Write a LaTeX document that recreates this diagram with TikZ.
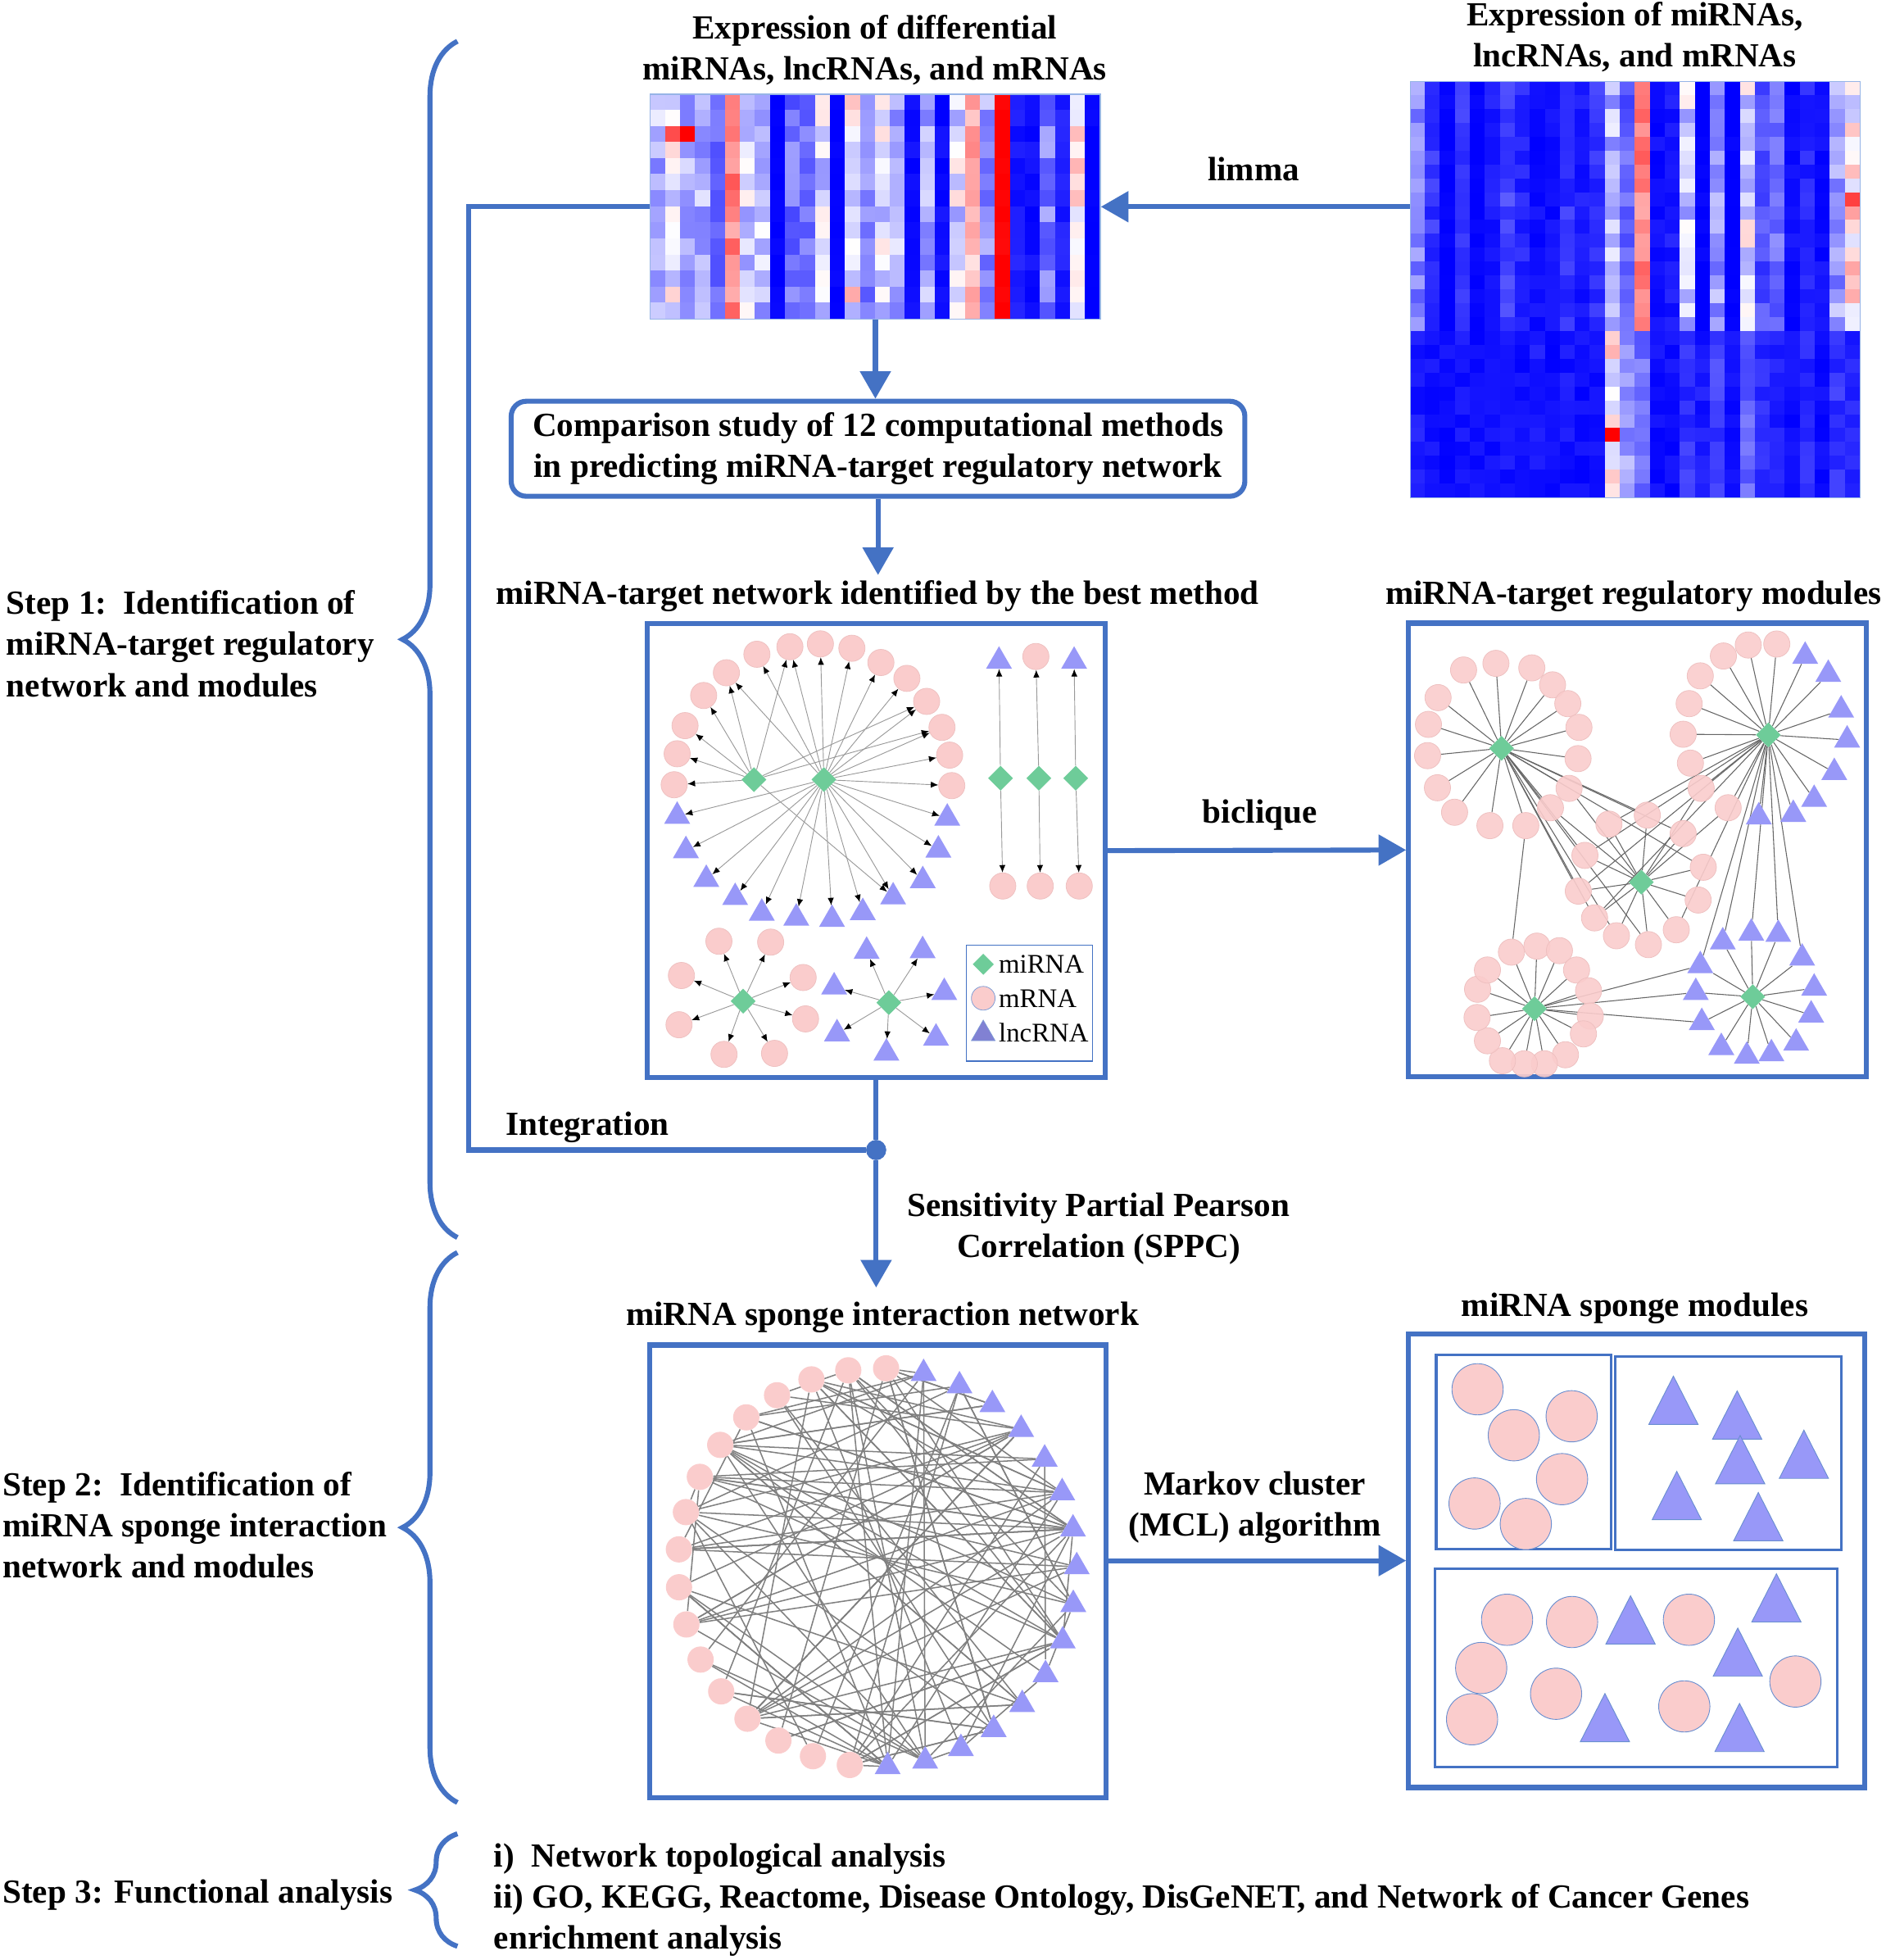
\documentclass[tikz,border=0pt]{standalone}
\usepackage{fontspec}
\setmainfont{Liberation Serif}
\usetikzlibrary{arrows.meta,shapes.geometric,decorations.pathreplacing,backgrounds}

\definecolor{flowblue}{RGB}{68,114,196}
\definecolor{mrnafill}{RGB}{250,204,204}
\definecolor{mrnaline}{RGB}{238,192,192}
\definecolor{lncfill}{RGB}{152,152,248}
\definecolor{mirnafill}{RGB}{110,204,153}
\definecolor{hmline}{RGB}{150,180,230}

\tikzset{
  heading/.style={font=\bfseries\fontsize{27}{33}\selectfont, align=center, inner sep=0pt},
  steptext/.style={font=\bfseries\fontsize{27}{33}\selectfont, align=left, inner sep=0pt, anchor=west},
  legendtext/.style={font=\fontsize{21.5}{24}\selectfont, inner sep=0pt, anchor=west},
  flow/.style={draw=flowblue, line width=4pt, -{Triangle[width=24pt,length=22pt]}},
  flowline/.style={draw=flowblue, line width=4pt},
  netbox/.style={draw=flowblue, line width=4pt, minimum width=366pt, minimum height=363pt, inner sep=0pt},
  cmpbox/.style={draw=flowblue, line width=4pt, rounded corners=12pt, minimum width=587pt, minimum height=76pt, font=\bfseries\fontsize{27}{33}\selectfont, align=center},
  hmframe/.style={draw=hmline, line width=0.8pt, inner sep=0pt, anchor=north west},
  joindot/.style={circle, fill=flowblue, minimum size=16pt, inner sep=0pt},
  mrna/.style={circle, fill=mrnafill, draw=mrnaline, line width=0.5pt, minimum size=21pt, inner sep=0pt},
  lnc/.style={regular polygon, regular polygon sides=3, fill=lncfill, minimum size=24pt, inner sep=0pt},
  mirna/.style={diamond, fill=mirnafill, minimum size=20pt, inner sep=0pt},
  tgtarrow/.style={draw=gray!80, line width=0.6pt, -{Latex[length=6pt,width=5pt,color=black]}},
  modedge/.style={draw=black!60, line width=0.7pt},
  sponge/.style={draw=black!50, line width=1pt},
  modframe/.style={draw=flowblue, line width=2pt},
  modcirc/.style={fill=mrnafill, draw=flowblue!80, line width=0.6pt},
  modlnc/.style={fill=lncfill, draw=flowblue!80, line width=0.6pt},
}

\newcommand{\heatcell}[5]{%
  \pgfmathsetmacro\hv{max(-1,min(1,#5))}%
  \pgfmathsetmacro\hp{abs(\hv)*100}%
  \ifdim\hv pt<0pt
    \fill[blue!\hp!white] (#1,#2) rectangle ++(#3,#4);
  \else
    \fill[red!\hp!white] (#1,#2) rectangle ++(#3,#4);
  \fi}
\newcommand{\modtri}[2]{\filldraw[modlnc] (#1-19.7,#2+19.3) -- (#1,#2-19.3) -- (#1+19.7,#2+19.3) -- cycle;}

\begin{document}
\begin{tikzpicture}[x=1pt,y=-1pt]
\useasboundingbox (0,0) rectangle (1509,1568);
\begin{scope}[on background layer]
  \fill[white] (0,0) rectangle (1509,1568);
\end{scope}

% heatmaps
\pgfmathsetseed{11}
\foreach \m [count=\c from 0] in {-0.3,-0.1,-0.3,-0.3,-0.6,0.5,-0.15,-0.25,-1,-0.55,-0.55,-0.1,-1,0.0,-0.5,-0.15,-0.3,-0.95,-0.35,-0.95,-0.1,0.35,-0.4,1,-0.9,-0.95,-0.5,-0.9,0.0,-1}{
  \pgfmathsetmacro\jit{0.6*(1-abs(\m))+0.08}
  \foreach \r in {0,...,13}{
    \pgfmathsetmacro\hval{\m+\jit*(rnd-0.5)}
    \heatcell{520+12*\c}{75+12.857*\r}{12.2}{13.06}{\hval}
  }
}
\heatcell{532}{100.71}{12}{12.86}{0.7}
\heatcell{544}{100.71}{12}{12.86}{1}
\node[hmframe, minimum width=360pt, minimum height=180pt] (hm1) at (520,75) {};

\foreach \mt/\mb [count=\c from 0] in {-0.45/-0.9,-0.8/-0.92,-1/-0.95,-0.8/-0.92,-1/-0.95,-0.9/-0.95,-0.75/-0.92,-0.85/-0.95,-0.95/-0.9,-0.95/-0.95,-0.8/-0.92,-0.9/-0.95,-0.8/-0.95,-0.25/0.0,-0.6/-0.4,0.5/-0.5,-0.95/-0.95,-0.9/-0.95,-0.2/-0.8,-1/-0.9,-0.4/-0.75,-1/-0.95,-0.1/-0.6,-0.7/-0.85,-0.55/-0.9,-0.95/-0.95,-0.85/-0.85,-0.95/-0.95,-0.4/-0.8,0.05/-0.85}{
  \foreach \r in {0,...,29}{
    \ifnum\r<18 \let\m\mt \else \let\m\mb \fi
    \pgfmathsetmacro\jit{0.6*(1-abs(\m))+0.08}
    \pgfmathsetmacro\hval{\m+\jit*(rnd-0.5)}
    \heatcell{1128+12*\c}{65+11.1*\r}{12.2}{11.3}{\hval}
  }
}
\heatcell{1284}{342.5}{12}{11.1}{1}
\heatcell{1476}{153.8}{12}{11.1}{0.75}
\node[hmframe, minimum width=360pt, minimum height=333pt] (hm2) at (1128,65) {};

\node[heading] (hmt1) at (700,40) {Expression of differential\\miRNAs, lncRNAs, and mRNAs};
\node[heading] (hmt2) at (1308,29.5) {Expression of miRNAs,\\lncRNAs, and mRNAs};

\draw[flow] (hm2.west |- hm1.east) -- (hm1.east);
\node[heading] (limma) at (1003,135) {limma};

\node[cmpbox] (cmp) at (702.5,359) {Comparison study of 12 computational methods\\in predicting miRNA-target regulatory network};
\draw[flow] (hm1.south) -- (hm1.south |- cmp.north);
\coordinate (bestTop) at (702.5,460);
\draw[flow] (cmp.south) -- (bestTop);

\node[heading] (net1t) at (702,477) {miRNA-target network identified by the best method};
\node[heading] (net2t) at (1307,477) {miRNA-target regulatory modules};

% miRNA-target network
\node[netbox] (net1) at (701,680.5) {};
\node[mirna] (d1) at (603.2,623.7) {};
\node[mirna] (d2) at (659.2,623.7) {};
\foreach \p [count=\i] in {(539.4,627.8),(541.8,603),(548.1,580.5),(563,556.4),(581.2,538.2),(605.6,523.4),(632,517.4),(656.4,515.1),(681.6,518.6),(704.8,530),(725.6,542.7),(741.4,561.1),(753.7,581.9),(759.8,604.1),(761.5,628.5)}
  \node[mrna] (c\i) at \p {};
\foreach \p [count=\i] in {(541.8,653),(548.8,680.5),(565.1,703.5),(588.2,718),(609.5,730.5),(637.1,734.5),(665.7,735.5),(690.3,730),(714.6,717.5),(738.3,704.5),(750.8,680),(757.9,654.5)}
  \node[lnc] (t\i) at \p {};
\foreach \i in {1,...,5,7,12,13} \draw[tgtarrow] (d1) -- (c\i);
\draw[tgtarrow] (d1) -- (t9);
\foreach \i in {5,...,15} \draw[tgtarrow] (d2) -- (c\i);
\foreach \i in {1,...,12} \draw[tgtarrow] (d2) -- (t\i);

\foreach \x [count=\i] in {800.5,831.2,860.7} \node[mirna] (v\i) at (\x,622.6) {};
\node[lnc] (vt1) at (799.3,529) {};
\node[mrna] (vt2) at (828.8,525.2) {};
\node[lnc] (vt3) at (859.4,529) {};
\foreach \x [count=\i] in {802.3,832.3,863.5} \node[mrna] (vb\i) at (\x,708.8) {};
\foreach \i in {1,2,3} {
  \draw[tgtarrow] (v\i) -- (vt\i);
  \draw[tgtarrow] (v\i) -- (vb\i);
}

\node[mirna] (d3) at (594.6,800.9) {};
\foreach \p [count=\i] in {(575.2,753),(616.6,753.7),(545.2,780.4),(642.6,782),(543.3,819.8),(644.5,815.1),(579.3,843.5),(619.7,842.7)}{
  \node[mrna] (sa\i) at \p {};
  \draw[tgtarrow] (d3) -- (sa\i);
}
\node[mirna] (d4) at (711.2,802.1) {};
\foreach \p [count=\i] in {(693.4,761),(738.2,760.5),(667.4,789.5),(755.5,794),(669.7,827),(748.9,830.5),(709.2,842.5)}{
  \node[lnc] (sb\i) at \p {};
  \draw[tgtarrow] (d4) -- (sb\i);
}

\draw[draw=flowblue, line width=0.8pt] (773.3,756) rectangle (874.2,848.9);
\node[mirna, minimum size=17pt] (lg1) at (786.7,771.4) {};
\node[mrna, minimum size=19pt, draw=flowblue!70] (lg2) at (786.7,798.6) {};
\node[lnc, minimum size=22pt, fill=lncfill!85!black, draw=flowblue!70] (lg3) at (786.7,827) {};
\node[legendtext] (lg1t) at (799,771.4) {miRNA};
\node[legendtext] (lg2t) at (799,798.6) {mRNA};
\node[legendtext] (lg3t) at (799,826) {lncRNA};

% regulatory modules
\node[netbox] (net2) at (1310,680) {};
\node[mirna] (ga) at (1201.4,598.6) {};
\node[mirna] (gb) at (1414.8,587.9) {};
\node[mirna] (gc) at (1313.2,705.7) {};
\node[mirna] (gd) at (1227.8,806.9) {};
\node[mirna] (ge) at (1402.4,797.4) {};
\foreach \p [count=\i] in {(1171.0,536.0),(1196.9,530.7),(1225.6,534.3),(1242.2,547.9),(1254.4,562.9),(1263.3,581.9),(1262.6,606.9),(1150.6,558.1),(1142.9,579.5),(1142.2,604.5),(1150.1,630.2),(1163.8,649.8),(1192.1,660.5),(1220.8,660.5),(1240.5,646.2),(1255.4,630.7)}
  \node[mrna, fill opacity=0.9] (ga\i) at \p {};
\foreach \p [count=\i] in {(1287.3,659.3),(1318,652.1),(1268.1,684.3),(1262.8,712.9),(1275.8,734.3),(1293.3,748.6),(1318.9,755.7),(1341.2,743.8),(1358.7,720),(1362.8,693.8),(1346.7,666.9)}
  \node[mrna, fill opacity=0.9] (gc\i) at \p {};
\foreach \p [count=\i] in {(1378.9,524.8),(1398.8,516),(1421.6,515.2),(1360.4,540.7),(1351.5,562.9),(1346.7,587.4),(1352.5,610.5),(1361.1,630.7),(1382.7,646.2)}
  \node[mrna, fill opacity=0.9] (gb\i) at \p {};
\foreach \p [count=\i] in {(1444.3,525),(1462.8,539.5),(1473.1,568),(1477.9,592),(1467.6,618),(1451.5,639.5),(1434.8,651.5),(1407.2,653.5)}
  \node[lnc] (gbt\i) at \p {};
\foreach \p [count=\i] in {(1209.3,761.7),(1229.7,756.9),(1247.7,760.5),(1261.4,776),(1271,792.6),(1272.4,812.9),(1266.9,827.1),(1252.5,843.8),(1235.7,851),(1219.6,851),(1202.1,848.6),(1190.1,832.6),(1181.8,814),(1182.2,791.4),(1190.1,776)}
  \node[mrna, fill opacity=0.9] (gd\i) at \p {};
\foreach \p [count=\i] in {(1378.4,753.5),(1401.2,746.5),(1422.8,747.5),(1360.4,772.5),(1441.9,766.5),(1356.8,794),(1451.5,790.5),(1361.6,818),(1449.1,812),(1377.2,838),(1397.6,845),(1417.3,843),(1437.1,834.5)}
  \node[lnc] (ge\i) at \p {};
\begin{scope}[on background layer]
  \foreach \i in {1,...,16} \draw[modedge] (ga) -- (ga\i);
  \foreach \i in {2,...,7,10,11} \draw[modedge] (ga) -- (gc\i);
  \foreach \i in {1,...,9} \draw[modedge] (gb) -- (gb\i);
  \foreach \i in {1,...,8} \draw[modedge] (gb) -- (gbt\i);
  \foreach \i in {1,3,4,5,8} \draw[modedge] (gb) -- (gc\i);
  \foreach \i in {1,...,5} \draw[modedge] (gb) -- (ge\i);
  \foreach \i in {1,...,11} \draw[modedge] (gc) -- (gc\i);
  \foreach \n in {ga15,ga16,gb8,gb9} \draw[modedge] (gc) -- (\n);
  \foreach \i in {1,...,15} \draw[modedge] (gd) -- (gd\i);
  \foreach \i in {4,6,8} \draw[modedge] (gd) -- (ge\i);
  \foreach \i in {1,...,13} \draw[modedge] (ge) -- (ge\i);
  \draw[modedge] (ga14) -- (gd1);
\end{scope}

\draw[flow] (net1.east) -- (net2.west);
\node[heading] (biclique) at (1008,652) {biclique};

\coordinate (intcorner) at (375,920);
\node[joindot] (join) at (701,920) {};
\draw[flowline] (hm1.west) -| (intcorner) -- (join);
\draw[flowline] (net1.south) -- (join);
\coordinate (spongeTop) at (701,1030);
\draw[flow] (join) -- (spongeTop);
\node[joindot] (join2) at (701,920) {};
\node[heading] (integ) at (470,902) {Integration};
\node[heading] (sppc) at (879,983) {Sensitivity Partial Pearson\\Correlation (SPPC)};

% miRNA sponge network
\node[heading] (net3t) at (706,1054) {miRNA sponge interaction network};
\node[netbox, minimum width=365pt, minimum height=362pt] (net3) at (702.5,1257) {};
\foreach \i in {0,...,32}{
  \pgfmathsetmacro\ang{87.5+\i*360/33}
  \pgfmathsetmacro\sx{702+159.5*cos(\ang)}
  \pgfmathsetmacro\sy{1254-159.5*sin(\ang)}
  \ifnum\i<17 \node[mrna, draw=none] (s\i) at (\sx,\sy) {};
  \else \node[lnc] (s\i) at (\sx,\sy) {}; \fi
}
\begin{scope}[on background layer]
  \pgfmathsetseed{5}
  \foreach \k in {1,...,62}{
    \pgfmathtruncatemacro\ea{random(0,16)}
    \pgfmathtruncatemacro\eb{random(17,32)}
    \draw[sponge] (s\ea) -- (s\eb);
  }
  \foreach \h in {20,23,26,29}{
    \foreach \k in {1,...,7}{
      \pgfmathtruncatemacro\ea{random(0,16)}
      \draw[sponge] (s\ea) -- (s\h);
    }
  }
  \foreach \h in {18,21,24,27,30,32} \draw[sponge] (s5) -- (s\h);
  \foreach \k in {1,...,14}{
    \pgfmathtruncatemacro\ea{random(17,32)}
    \pgfmathtruncatemacro\eb{random(17,32)}
    \ifnum\ea=\eb \else \draw[sponge] (s\ea) -- (s\eb); \fi
  }
  \foreach \k in {1,...,8}{
    \pgfmathtruncatemacro\ea{random(0,16)}
    \pgfmathtruncatemacro\eb{random(0,16)}
    \ifnum\ea=\eb \else \draw[sponge] (s\ea) -- (s\eb); \fi
  }
\end{scope}

% miRNA sponge modules
\node[heading] (net4t) at (1308,1047) {miRNA sponge modules};
\node[netbox, minimum width=365pt, minimum height=363pt] (net4) at (1309.5,1248.5) {};
\draw[modframe] (1149.1,1083.8) rectangle (1289.2,1239.1);
\draw[modframe] (1292.6,1085) rectangle (1473,1239.8);
\draw[modframe] (1147.9,1254.8) rectangle (1470,1413.5);
\foreach \p in {(1182.2,1111.4),(1211.2,1148.2),(1257.5,1133),(1249.8,1183.3),(1179.8,1202.8),(1220.8,1219.2),(1205.8,1295.8),(1257.8,1297.6),(1351.3,1295.8),(1185.1,1334.4),(1245,1355),(1347.6,1365.1),(1436.5,1345.2),(1177.8,1375.4)}
  \filldraw[modcirc] \p circle (20.5pt);
\modtri{1338.9}{1120.2}
\modtri{1389.9}{1132}
\modtri{1392.3}{1167.7}
\modtri{1443.3}{1163.4}
\modtri{1341.6}{1196.4}
\modtri{1406.8}{1213.3}
\modtri{1304.6}{1295.9}
\modtri{1421.3}{1278.3}
\modtri{1390.4}{1321.7}
\modtri{1284.1}{1374.1}
\modtri{1391.8}{1382}

\draw[flow] (net3.east |- net4.west) -- (net4.west);
\node[heading] (mcl) at (1004,1206) {Markov cluster\\(MCL) algorithm};

% steps
\draw[flowline, decorate, decoration={brace, amplitude=44pt}] (366,990) -- (366,33);
\draw[flowline, decorate, decoration={brace, amplitude=44pt}] (366,1442) -- (366,1002);
\draw[flowline, decorate, decoration={brace, amplitude=34pt}] (366,1557) -- (366,1467);
\node[steptext] (step1) at (5,515) {Step 1:\enspace Identification of\\miRNA-target regulatory\\network and modules};
\node[steptext] (step2) at (2,1220) {Step 2:\enspace Identification of\\miRNA sponge interaction\\network and modules};
\node[steptext] (step3) at (2,1516) {Step 3: Functional analysis};
\node[steptext] (funcs) at (395,1520) {i)\enspace Network topological analysis\\ii) GO, KEGG, Reactome, Disease Ontology, DisGeNET, and Network of Cancer Genes\\enrichment analysis};
\end{tikzpicture}
\end{document}
